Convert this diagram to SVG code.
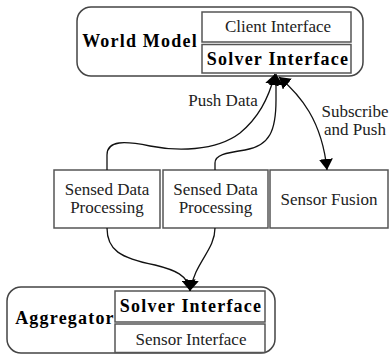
<svg xmlns="http://www.w3.org/2000/svg" width="391" height="355" viewBox="0 0 391 355" font-family="Liberation Serif, Times New Roman, DejaVu Serif, serif">
  <style>
    .frame { fill: #fff; stroke: #444; stroke-width: 1.5; }
    .box { fill: #fff; stroke: #555; stroke-width: 1.5; }
    .t { font-size: 17px; fill: #222; text-anchor: middle; }
    .b { font-size: 18px; font-weight: bold; letter-spacing: 1.2px; fill: #000; text-anchor: middle; }
    .edge { fill: none; stroke: #111; stroke-width: 1.3; }
  </style>
  <defs>
    <marker id="arrow" markerUnits="userSpaceOnUse" markerWidth="12" markerHeight="14" viewBox="0 0 12 14" refX="11" refY="7" orient="auto-start-reverse">
      <path d="M0,0 L11,7 L0,14 z" fill="#000"/>
    </marker>
  </defs>

  <!-- World Model with its two interfaces -->
  <g id="world-model">
    <rect class="frame" x="77" y="7" width="286" height="69" rx="14"/>
    <text class="b" x="140" y="47">World Model</text>
    <rect class="box" x="202" y="12" width="149" height="30"/>
    <text class="t" x="278" y="32">Client Interface</text>
    <rect class="box" x="202" y="44.5" width="149" height="28.5"/>
    <text class="b" x="278" y="65">Solver Interface</text>
  </g>

  <!-- Processing stages -->
  <g id="sensed-data-processing-1">
    <rect class="box" x="54" y="170" width="106" height="58"/>
    <text class="t" x="107" y="195">Sensed Data</text>
    <text class="t" x="107" y="213">Processing</text>
  </g>
  <g id="sensed-data-processing-2">
    <rect class="box" x="163" y="170" width="105" height="58"/>
    <text class="t" x="215.5" y="195">Sensed Data</text>
    <text class="t" x="215.5" y="213">Processing</text>
  </g>
  <g id="sensor-fusion">
    <rect class="box" x="270" y="170" width="118" height="58"/>
    <text class="t" x="329" y="205">Sensor Fusion</text>
  </g>

  <!-- Aggregator with its two interfaces -->
  <g id="aggregator">
    <rect class="frame" x="7" y="287" width="268" height="66" rx="14"/>
    <text class="b" x="65" y="324">Aggregator</text>
    <rect class="box" x="115" y="291" width="150" height="31"/>
    <text class="b" x="191" y="312">Solver Interface</text>
    <rect class="box" x="115" y="324" width="150" height="28.5"/>
    <text class="t" x="191" y="345">Sensor Interface</text>
  </g>

  <!-- Connectors -->
  <g id="connectors">
    <path class="edge" d="M107,170 V155 C107,140 125,141 150,146 C175,151 215,152 240,133 C258,118 268,100 275,74" marker-end="url(#arrow)"/>
    <path class="edge" d="M215,170 V163 C215,155 225,153 245,150 C270,146 276,130 276,100 V74" marker-end="url(#arrow)"/>
    <path class="edge" d="M279,77 C300,95 322,120 327,170" marker-start="url(#arrow)" marker-end="url(#arrow)"/>
    <path class="edge" d="M107,228 C107,250 120,258 155,265 C175,270 188,275 190,291" marker-end="url(#arrow)"/>
    <path class="edge" d="M215,228 C215,250 195,262 190,291" marker-end="url(#arrow)"/>
    <text class="t" x="223" y="106">Push Data</text>
    <text class="t" x="355" y="117">Subscribe</text>
    <text class="t" x="355" y="135">and Push</text>
  </g>
</svg>
